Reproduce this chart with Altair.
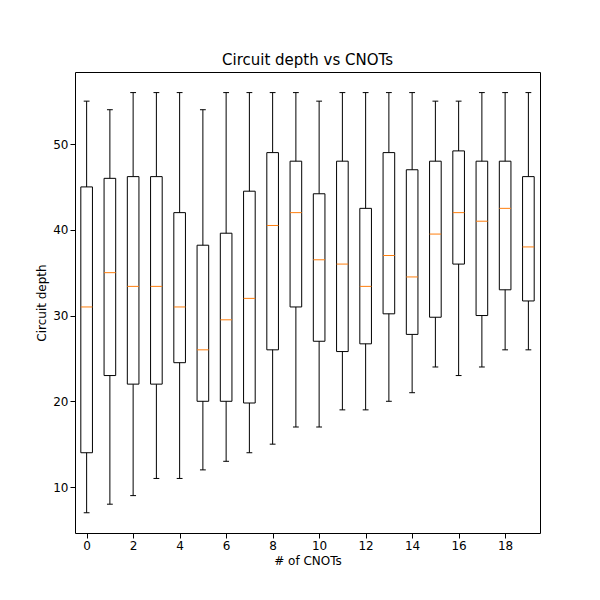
import altair as alt
import pandas as pd

cnots = list(range(20))
whisker_low = [7, 8, 9, 11, 11, 12, 13, 14, 15, 17, 17, 19, 19, 20, 21, 24, 23, 24, 26, 26]
whisker_high = [55, 54, 56, 56, 56, 54, 56, 56, 56, 56, 55, 56, 56, 56, 56, 55, 55, 56, 56, 56]
q1 = [14, 23, 22, 22, 24.5, 20, 20, 19.8, 26, 31, 27, 25.8, 26.7, 30.2, 27.8, 29.8, 36, 30, 33, 31.7]
q3 = [45, 46, 46.2, 46.2, 42, 38.2, 39.6, 44.5, 49, 48, 44.2, 48, 42.5, 49, 47, 48, 49.2, 48, 48, 46.2]
median = [31, 35, 33.4, 33.4, 31, 26, 29.5, 32, 40.5, 42, 36.5, 36, 33.4, 37, 34.5, 39.5, 42, 41, 42.5, 38]

df = pd.DataFrame({
    "n": cnots, "lo": whisker_low, "hi": whisker_high,
    "q1": q1, "q3": q3, "med": median,
})
df["b0"] = df["n"] - 0.25
df["b1"] = df["n"] + 0.25
df["c0"] = df["n"] - 0.125
df["c1"] = df["n"] + 0.125

font = "DejaVu Sans"
xs = alt.Scale(domain=[-0.5, 19.5], nice=False, zero=False)
ys = alt.Scale(domain=[4.64, 58.4], nice=False, zero=False)
xax = alt.Axis(values=cnots, grid=False, title="# of CNOTs", labelFont=font, titleFont=font,
               labelFontSize=12, titleFontSize=12, titleFontWeight="normal", labelColor="black",
               titleColor="black", tickColor="black", domain=False, labelFlush=False,
               labelOverlap=False, format="d")
yax = alt.Axis(values=[10, 20, 30, 40, 50], grid=False, title="Circuit depth", labelFont=font,
               titleFont=font, labelFontSize=12, titleFontSize=12, titleFontWeight="normal",
               labelColor="black", titleColor="black", tickColor="black", domain=False)

base = alt.Chart(df)
whisk = base.mark_rule(color="black").encode(
    x=alt.X("n:Q", scale=xs, axis=xax), y=alt.Y("lo:Q", scale=ys, axis=yax), y2="hi:Q")
box = base.mark_rect(fill="white", stroke="black", strokeWidth=1).encode(
    x=alt.X("b0:Q", scale=xs), x2="b1:Q", y=alt.Y("q1:Q", scale=ys), y2="q3:Q")
cap_lo = base.mark_rule(color="black").encode(
    x=alt.X("c0:Q", scale=xs), x2="c1:Q", y=alt.Y("lo:Q", scale=ys))
cap_hi = base.mark_rule(color="black").encode(
    x=alt.X("c0:Q", scale=xs), x2="c1:Q", y=alt.Y("hi:Q", scale=ys))
med = base.mark_rule(color="#ff7f0e").encode(
    x=alt.X("b0:Q", scale=xs), x2="b1:Q", y=alt.Y("med:Q", scale=ys))

chart = alt.layer(whisk, box, cap_lo, cap_hi, med).properties(
    width=465, height=461,
    background="white",
    title=alt.Title("Circuit depth vs CNOTs", font=font, fontSize=15, fontWeight="normal", color="black"),
    autosize=alt.AutoSizeParams(type="none"),
    padding={"left": 67, "top": 64, "right": 52, "bottom": 59},
).configure_view(stroke="black", strokeWidth=1)

chart.save("out.html", embed_options={"renderer": "svg", "actions": False})
